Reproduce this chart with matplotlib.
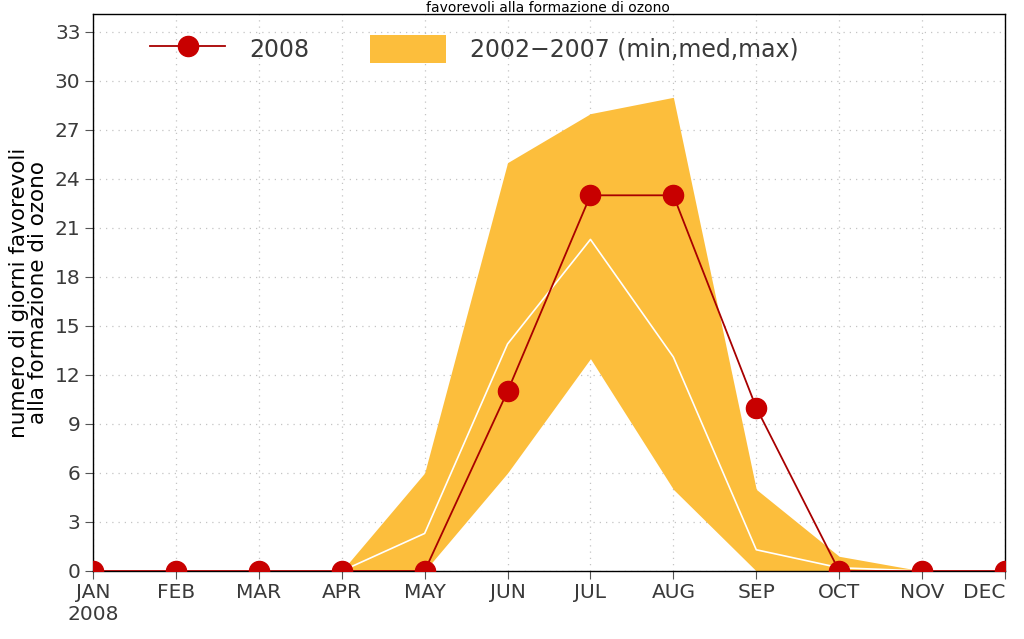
"""Giorni favorevoli alla formazione di ozono: 2008 vs range 2002-2007."""

import matplotlib

matplotlib.use("Agg")
import matplotlib.pyplot as plt
from matplotlib.lines import Line2D
from matplotlib.patches import Patch

months = ["JAN\n2008", "FEB", "MAR", "APR", "MAY", "JUN",
          "JUL", "AUG", "SEP", "OCT", "NOV", "DEC"]

days_2008 = [0, 0, 0, 0, 0, 11, 23, 23, 10, 0, 0, 0]
ref_min = [0, 0, 0, 0, 0, 6, 13, 5, 0, 0, 0, 0]
ref_med = [0, 0, 0, 0, 2.3, 13.9, 20.3, 13.1, 1.3, 0.2, 0, 0]
ref_max = [0, 0, 0, 0, 6, 25, 28, 29, 5, 0.9, 0, 0]

y_ticks = [0, 3, 6, 9, 12, 15, 18, 21, 24, 27, 30, 33]

BAND_COLOR = "#FCBE3C"
RED = "#C80000"
DARK_RED = "#A80000"
TEXT = "#3a3a3a"

plt.rcParams["font.family"] = ["DejaVu Sans"]

fig = plt.figure(figsize=(10.24, 6.39), dpi=100)
ax = fig.add_axes([93 / 1024, 1 - 571 / 639, 912 / 1024, 557 / 639])

x = list(range(len(months)))

ax.fill_between(x, ref_min, ref_max, color=BAND_COLOR, linewidth=0, zorder=2)
ax.plot(x, ref_med, color="white", lw=1.2, zorder=3)
ax.plot(x, days_2008, color=DARK_RED, lw=1.3, marker="o", ms=14.5,
        markerfacecolor=RED, markeredgecolor=RED, zorder=4)

ax.set_xlim(0, 11)
ax.set_ylim(0, 34.1)
ax.set_xticks(x)
ax.set_xticklabels(months)
ax.set_yticks(y_ticks)
# last month label sits against the right edge of the figure
ax.get_xticklabels()[-1].set_horizontalalignment("right")

ax.grid(True, color="#c4c4c4", linestyle=(0, (1, 4)), lw=0.9, zorder=1)
ax.tick_params(axis="both", direction="out", length=6, width=0.8,
               colors="#555555", labelcolor=TEXT, labelsize=14.5, pad=3)
for s in ax.spines.values():
    s.set_color("black")
    s.set_linewidth(1.0)

ax.set_ylabel("numero di giorni favorevoli\nalla formazione di ozono",
              fontsize=15.5, color="black", labelpad=5, linespacing=0.9)

handles = [
    Line2D([], [], color=DARK_RED, lw=1.3, marker="o", ms=14.5,
           markerfacecolor=RED, markeredgecolor=RED),
    Patch(facecolor=BAND_COLOR, edgecolor="none"),
]
ax.legend(handles, ["2008", "2002\u22122007 (min,med,max)"], ncol=2,
          loc="upper left", bbox_to_anchor=(0.039, 1.0), frameon=False,
          fontsize=17, handlelength=3.2, handleheight=1.4,
          columnspacing=2.6, handletextpad=1.0, labelcolor=TEXT)

# title squeezed into the thin strip above the axes
fig.text(0.535, 1 - 12 / 639, "favorevoli alla formazione di ozono",
         ha="center", va="baseline", fontsize=10, color="black")

fig.savefig("out.png", dpi=100)
